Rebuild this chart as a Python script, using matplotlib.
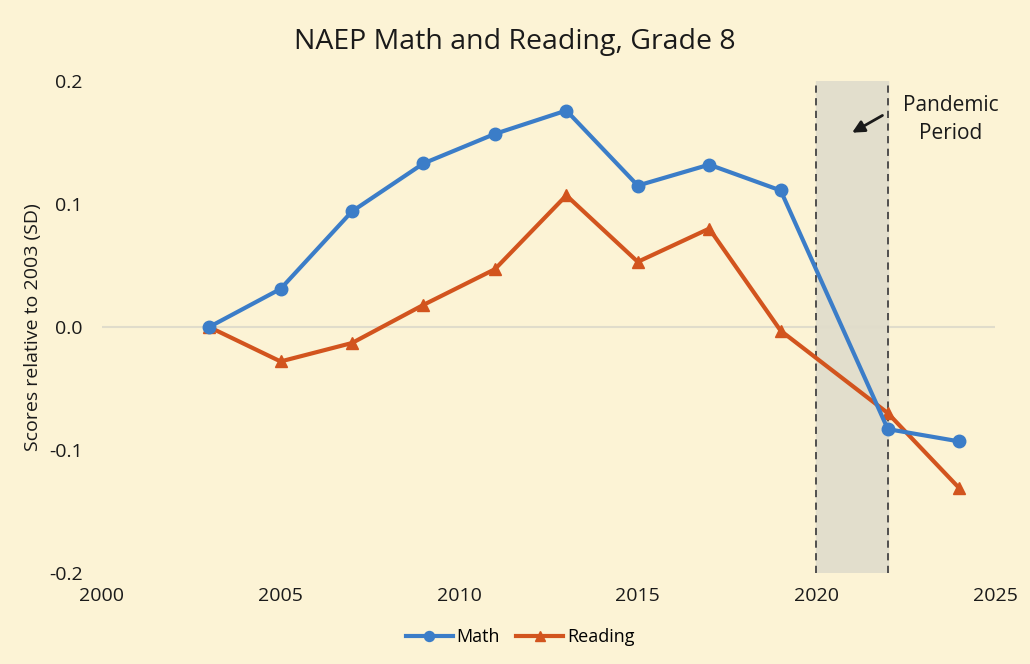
import matplotlib
matplotlib.use('Agg')
import matplotlib.pyplot as plt

# ── Data ──────────────────────────────────────────────────────────────────────
years = [2003, 2005, 2007, 2009, 2011, 2013, 2015, 2017, 2019, 2022, 2024]
math_scores = [0.0, 0.031, 0.094, 0.133, 0.157, 0.176, 0.115, 0.132, 0.111, -0.083, -0.093]
reading_scores = [0.0, -0.028, -0.013, 0.018, 0.047, 0.107, 0.053, 0.080, -0.003, -0.070, -0.131]
pandemic_start, pandemic_end = 2020, 2022

BG = '#FCF3D5'
BLUE = '#3B7DC8'
ORANGE = '#D2541E'
DARK = '#1A1A1A'

plt.rcParams['font.family'] = ['Open Sans', 'DejaVu Sans']

fig = plt.figure(figsize=(10.3, 6.64), dpi=100)
fig.patch.set_facecolor(BG)
ax = fig.add_axes([0.099, 0.137, 0.867, 0.741])
ax.set_facecolor(BG)

# pandemic shading
ax.axvspan(pandemic_start, pandemic_end, color='#E2DECC', zorder=1)
for xv in (pandemic_start, pandemic_end):
    ax.axvline(xv, color='#444444', ls=(0, (4, 3)), lw=1.3, zorder=2)

ax.axhline(0, color='#E0DCCB', lw=1.5, zorder=1)

ax.plot(years, math_scores, color=BLUE, lw=3, marker='o', ms=9, label='Math', zorder=4)
ax.plot(years, reading_scores, color=ORANGE, lw=3, marker='^', ms=9, label='Reading', zorder=3)

ax.set_xlim(2000, 2025)
ax.set_ylim(-0.2, 0.2)
ax.set_xticks([2000, 2005, 2010, 2015, 2020, 2025])
ax.set_yticks([-0.2, -0.1, 0.0, 0.1, 0.2])
ax.set_yticklabels(['-0.2', '-0.1', '0.0', '0.1', '0.2'])
ax.tick_params(length=0, labelsize=14, colors=DARK)
ax.tick_params(axis='y', pad=14)
ax.tick_params(axis='x', pad=10)
for s in ax.spines.values():
    s.set_visible(False)

ax.set_ylabel('Scores relative to 2003 (SD)', fontsize=14, color=DARK, labelpad=5)

ax.text(2023.75, 0.169, 'Pandemic\nPeriod', ha='center', va='center',
        fontsize=15, color=DARK, linespacing=1.45, zorder=5)
ax.annotate('', xy=(2021.0, 0.158), xytext=(2021.85, 0.172),
            arrowprops=dict(arrowstyle='-|>', color=DARK, lw=2,
                            mutation_scale=18, shrinkA=0, shrinkB=0),
            zorder=5)

fig.text(0.5, 0.937, 'NAEP Math and Reading, Grade 8', ha='center', va='center',
         fontsize=20.5, color=DARK)

fig.legend(*ax.get_legend_handles_labels(), loc='center', bbox_to_anchor=(0.505, 0.04), ncol=2,
           frameon=False, fontsize=13, handlelength=2.6, columnspacing=0.9,
           handletextpad=0.2, markerscale=0.8)

fig.savefig('out.png', dpi=100, facecolor=BG)
